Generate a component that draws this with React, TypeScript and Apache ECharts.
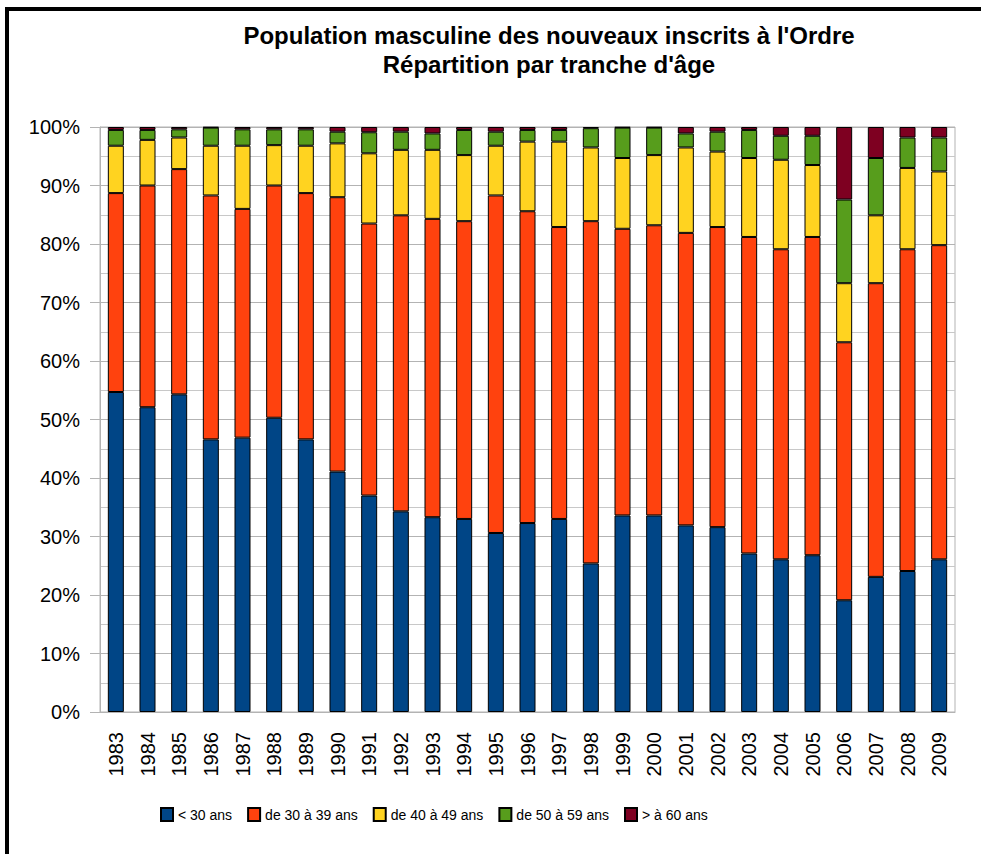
import React, { useEffect, useRef } from "react";
import * as echarts from "echarts";

const years = ["1983","1984","1985","1986","1987","1988","1989","1990","1991","1992","1993","1994","1995","1996","1997","1998","1999","2000","2001","2002","2003","2004","2005","2006","2007","2008","2009"];
const under30 = [54.7,52.1,54.3,46.6,46.9,50.3,46.6,41.1,37.0,34.3,33.3,33.0,30.6,32.3,33.0,25.4,33.6,33.6,31.9,31.6,27.1,26.1,26.8,19.1,23.1,24.1,26.1];
const age30to39 = [34.0,37.9,38.5,41.7,39.1,39.7,42.1,46.9,46.5,50.6,51.0,50.9,57.7,53.3,49.9,58.5,49.0,49.6,50.0,51.3,54.1,53.0,54.4,44.1,50.2,55.0,53.7];
const age40to49 = [8.1,7.8,5.4,8.5,10.8,6.9,8.1,9.2,12.0,11.2,11.8,11.3,8.5,11.9,14.6,12.6,12.1,12.0,14.6,12.9,13.5,15.3,12.3,10.1,11.6,13.9,12.6];
const age50to59 = [2.7,1.7,1.4,3.1,2.8,2.7,2.8,2.0,3.6,3.1,2.8,4.3,2.4,2.0,2.0,3.3,5.2,4.7,2.4,3.4,4.8,4.1,5.0,14.3,9.8,5.2,5.8];
const over60 = [0.5,0.5,0.4,0.1,0.4,0.4,0.4,0.8,0.9,0.8,1.1,0.5,0.8,0.5,0.5,0.2,0.1,0.1,1.1,0.8,0.5,1.5,1.5,12.4,5.3,1.8,1.8];
const seriesNames = ["< 30 ans", "de 30 à 39 ans", "de 40 à 49 ans", "de 50 à 59 ans", "> à 60 ans"];
const seriesColors = ["#004586", "#ff420e", "#ffd320", "#579d1c", "#7e0021"];
const yTicks = [0, 10, 20, 30, 40, 50, 60, 70, 80, 90, 100];
const titleLines = ["Population masculine des nouveaux inscrits à l'Ordre", "Répartition par tranche d'âge"];

export default function App() {
  const ref = useRef<HTMLDivElement>(null);
  useEffect(() => {
    if (!ref.current) return;
    const chart = echarts.init(ref.current, null, { renderer: "svg" });
    const font = "'Liberation Sans', Arial, sans-serif";
    const data = [under30, age30to39, age40to49, age50to59, over60];
    chart.setOption({
      animation: false,
      backgroundColor: "#ffffff",
      textStyle: { fontFamily: font },
      graphic: [
        { type: "line", shape: { x1: 7, y1: 7, x2: 7, y2: 854 }, style: { stroke: "#000", lineWidth: 4 } },
        { type: "line", shape: { x1: 5, y1: 9, x2: 981, y2: 9 }, style: { stroke: "#000", lineWidth: 4 } },
        { type: "text", x: 549, y: 35, style: { text: titleLines[0], font: `bold 24px ${font}`, fill: "#000", align: "center", verticalAlign: "middle" } },
        { type: "text", x: 549, y: 64, style: { text: titleLines[1], font: `bold 24px ${font}`, fill: "#000", align: "center", verticalAlign: "middle" } },
      ],
      legend: {
        left: 155,
        top: 802,
        itemWidth: 12,
        itemHeight: 13,
        itemGap: 15,
        icon: "rect",
        textStyle: { fontSize: 14, color: "#000", fontFamily: font },
        data: seriesNames,
      },
      grid: { left: 100, right: 26, top: 127, bottom: 142, show: true, borderColor: "#b3b3b3", borderWidth: 1, containLabel: false },
      xAxis: {
        type: "category",
        data: years,
        axisLine: { lineStyle: { color: "#b3b3b3" } },
        axisTick: { alignWithLabel: true, length: 10, lineStyle: { color: "#b3b3b3" } },
        axisLabel: { rotate: 90, fontSize: 20, color: "#000", margin: 20, fontFamily: font },
        splitLine: { show: false },
      },
      yAxis: {
        type: "value",
        min: yTicks[0],
        max: yTicks[yTicks.length - 1],
        interval: 10,
        axisLine: { show: true, lineStyle: { color: "#b3b3b3" } },
        axisTick: { show: true, length: 10, lineStyle: { color: "#b3b3b3" } },
        axisLabel: { formatter: "{value}%", fontSize: 20, color: "#000", margin: 20, fontFamily: font },
        splitLine: { show: true, lineStyle: { color: "#b3b3b3", width: 1 } },
        minorTick: { show: false, splitNumber: 2 },
        minorSplitLine: { show: true, lineStyle: { color: "#c8c8c8", width: 1 } },
      },
      series: seriesNames.map((name, i) => ({
        name,
        type: "bar",
        stack: "total",
        barWidth: 16,
        data: data[i],
        itemStyle: { color: seriesColors[i], borderColor: "#000", borderWidth: 1 },
      })),
    });
    return () => chart.dispose();
  }, []);
  return <div ref={ref} style={{ position: "absolute", left: 0, top: 0, width: 981, height: 854 }} />;
}
